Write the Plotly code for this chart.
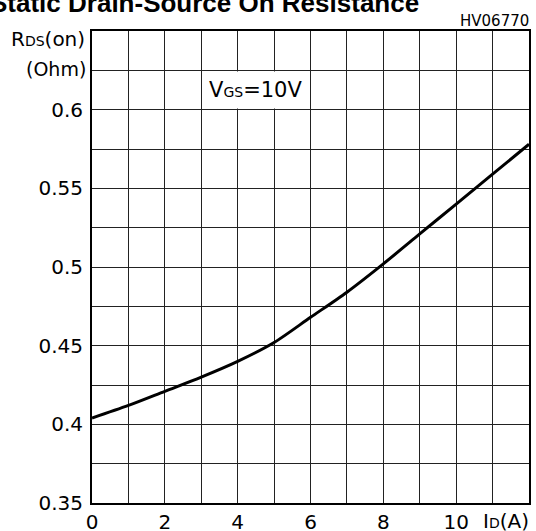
import plotly.graph_objects as go

# Data
drain_current = [0, 1, 2, 3, 4, 5, 6, 7, 8, 9, 10, 11, 12]
rds_on = [0.404, 0.412, 0.421, 0.430, 0.440, 0.452, 0.468, 0.484, 0.502, 0.521, 0.540, 0.559, 0.578]

x_grid = [0, 1, 2, 3, 4, 5, 6, 7, 8, 9, 10, 11]
x_labels = ["0", "", "2", "", "4", "", "6", "", "8", "", "10", ""]
y_grid = [0.35, 0.375, 0.4, 0.425, 0.45, 0.475, 0.5, 0.525, 0.55, 0.575, 0.6, 0.625]
y_labels = ["0.35", "", "0.4", "", "0.45", "", "0.5", "", "0.55", "", "0.6", ""]

FONT = "DejaVu Sans"

fig = go.Figure()
fig.add_trace(go.Scatter(
    x=drain_current, y=rds_on, mode="lines",
    line=dict(color="black", width=3, shape="spline", smoothing=0.8),
    showlegend=False, hoverinfo="skip",
))

fig.update_layout(
    width=536, height=531,
    margin=dict(l=92, r=7, t=31, b=28, autoexpand=False),
    paper_bgcolor="white", plot_bgcolor="white",
    font=dict(family=FONT, size=20, color="black"),
    showlegend=False,
)
fig.update_xaxes(
    range=[0, 12], tickvals=x_grid, ticktext=x_labels,
    showgrid=True, gridcolor="#222", gridwidth=1,
    showline=True, linecolor="black", linewidth=2, mirror=True,
    ticks="", ticklabelstandoff=0, zeroline=False, automargin=False,
    tickfont=dict(family=FONT, size=20),
)
fig.update_yaxes(
    range=[0.35, 0.65], tickvals=y_grid, ticktext=y_labels,
    showgrid=True, gridcolor="#222", gridwidth=1,
    showline=True, linecolor="black", linewidth=2, mirror=True,
    ticks="", ticklabelstandoff=3, zeroline=False, automargin=False,
    tickfont=dict(family=FONT, size=20),
)

# white box behind the V_GS label
fig.add_shape(type="rect", xref="x", yref="y", x0=3.04, x1=5.96, y0=0.6008, y1=0.6242,
              fillcolor="white", line=dict(width=0), layer="above")

fig.add_annotation(
    xref="x", yref="y", x=4.5, y=0.6125,
    text="V<span style='font-size:14px'>GS</span>=10V",
    showarrow=False, font=dict(family=FONT, size=21), xanchor="center", yanchor="middle",
)
fig.add_annotation(
    xref="paper", yref="paper", x=-0.011, y=0.982,
    text="R<span style='font-size:14px'>DS</span>(on)",
    showarrow=False, font=dict(family=FONT, size=20), xanchor="right", yanchor="middle",
)
fig.add_annotation(
    xref="paper", yref="paper", x=-0.009, y=0.92,
    text="(Ohm)",
    showarrow=False, font=dict(family=FONT, size=19), xanchor="right", yanchor="middle",
)
fig.add_annotation(
    xref="paper", yref="paper", x=1.005, y=-0.038,
    text="I<span style='font-size:14px'>D</span>(A)",
    showarrow=False, font=dict(family=FONT, size=20), xanchor="right", yanchor="middle",
)
fig.add_annotation(
    xref="paper", yref="paper", x=1.004, y=1.022,
    text="HV06770",
    showarrow=False, font=dict(family=FONT, size=15), xanchor="right", yanchor="middle",
)
fig.add_annotation(
    xref="paper", yref="paper", x=0.752, y=1.024,
    text="<b>Static Drain-Source On Resistance</b>",
    showarrow=False, font=dict(family="Liberation Sans", size=26), xanchor="right", yanchor="bottom",
)

fig.write_html(
    "out.html",
    config={"displayModeBar": False},
    post_script="document.body.style.margin='0';document.body.style.overflow='hidden';",
)
